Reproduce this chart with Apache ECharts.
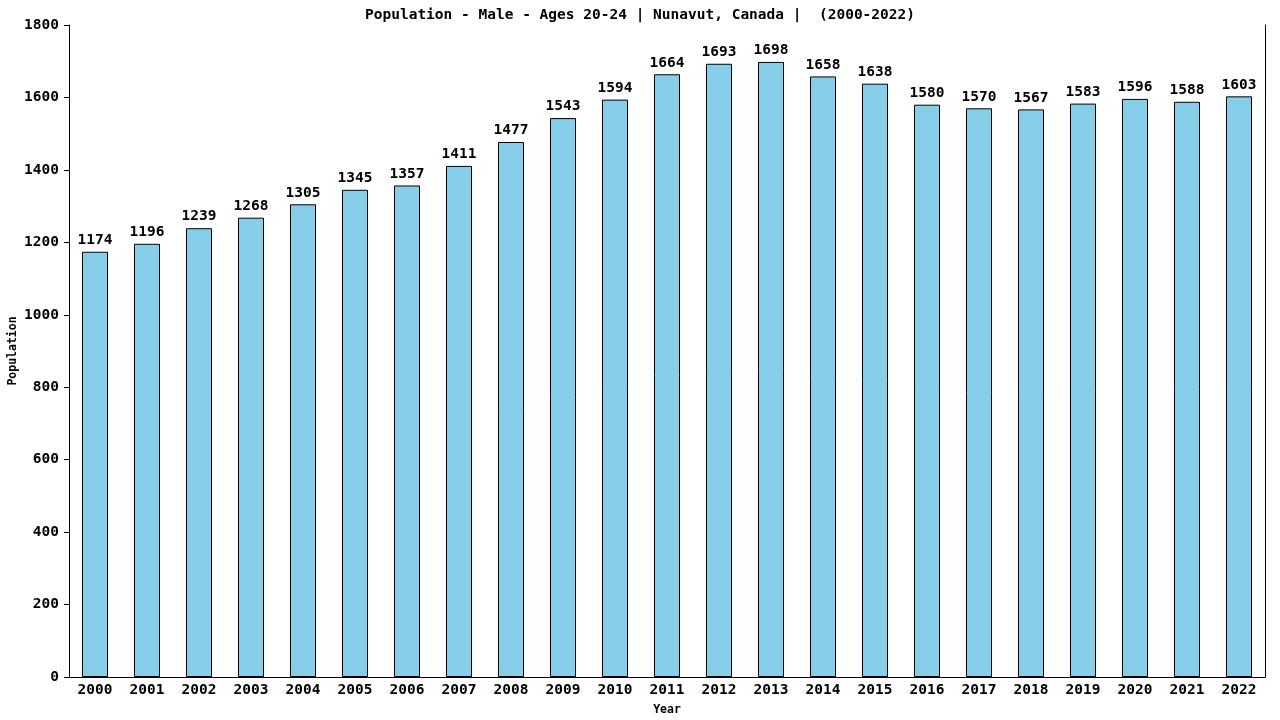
<!DOCTYPE html>
<html><head><meta charset="utf-8">
<script src="https://cdn.jsdelivr.net/npm/echarts@6/dist/echarts.min.js"></script>
<style>html,body{margin:0;padding:0;background:#fff}#c{width:1280px;height:720px}</style>
</head><body><div id="c"></div>
<script>
const years = ['2000','2001','2002','2003','2004','2005','2006','2007','2008','2009','2010','2011','2012','2013','2014','2015','2016','2017','2018','2019','2020','2021','2022'];
const population = [1174,1196,1239,1268,1305,1345,1357,1411,1477,1543,1594,1664,1693,1698,1658,1638,1580,1570,1567,1583,1596,1588,1603];
const yTicks = {min:0, max:1800, interval:200};
const FONT = '"DejaVu Sans Mono", monospace';
const chart = echarts.init(document.getElementById('c'));
chart.setOption({
  animation:false,
  title:{text:'Population - Male - Ages 20-24 | Nunavut, Canada |  (2000-2022)', left:'center', top:3,
    textStyle:{fontFamily:FONT, fontSize:14.5, fontWeight:'bold', color:'#000'}},
  grid:{left:69, right:15, top:25, bottom:43, containLabel:false, outerBoundsMode:'none'},
  xAxis:{type:'category', data:years,
    axisLine:{lineStyle:{color:'#000', width:1}}, axisTick:{show:false},
    axisLabel:{fontFamily:FONT, fontSize:14.5, fontWeight:'bold', color:'#000', margin:6},
    name:'Year', nameLocation:'middle', nameGap:27, nameMoveOverlap:false,
    nameTextStyle:{fontFamily:FONT, fontSize:11.5, fontWeight:'bold', color:'#000'}},
  yAxis:[{type:'value', min:yTicks.min, max:yTicks.max, interval:yTicks.interval,
    axisLine:{show:true, lineStyle:{color:'#000', width:1}},
    axisTick:{show:true, length:5, lineStyle:{color:'#000'}},
    splitLine:{show:false},
    axisLabel:{fontFamily:FONT, fontSize:14.5, fontWeight:'bold', color:'#000', margin:10, formatter:v=>String(v)},
    name:'Population', nameLocation:'middle', nameGap:50, nameMoveOverlap:false,
    nameTextStyle:{fontFamily:FONT, fontSize:11.5, fontWeight:'bold', color:'#000'}},
   {type:'value', position:'right', min:yTicks.min, max:yTicks.max, interval:yTicks.interval,
    axisLine:{show:true, lineStyle:{color:'#000', width:1}}, axisTick:{show:false},
    axisLabel:{show:false}, splitLine:{show:false}}],
  series:[{type:'bar', data:population, barWidth:'50%',
    itemStyle:{color:'#87ceeb', borderColor:'#000', borderWidth:1},
    label:{show:true, position:'top', distance:4, fontFamily:FONT, fontSize:14.5, fontWeight:'bold', color:'#000'}}]
});
</script></body></html>
